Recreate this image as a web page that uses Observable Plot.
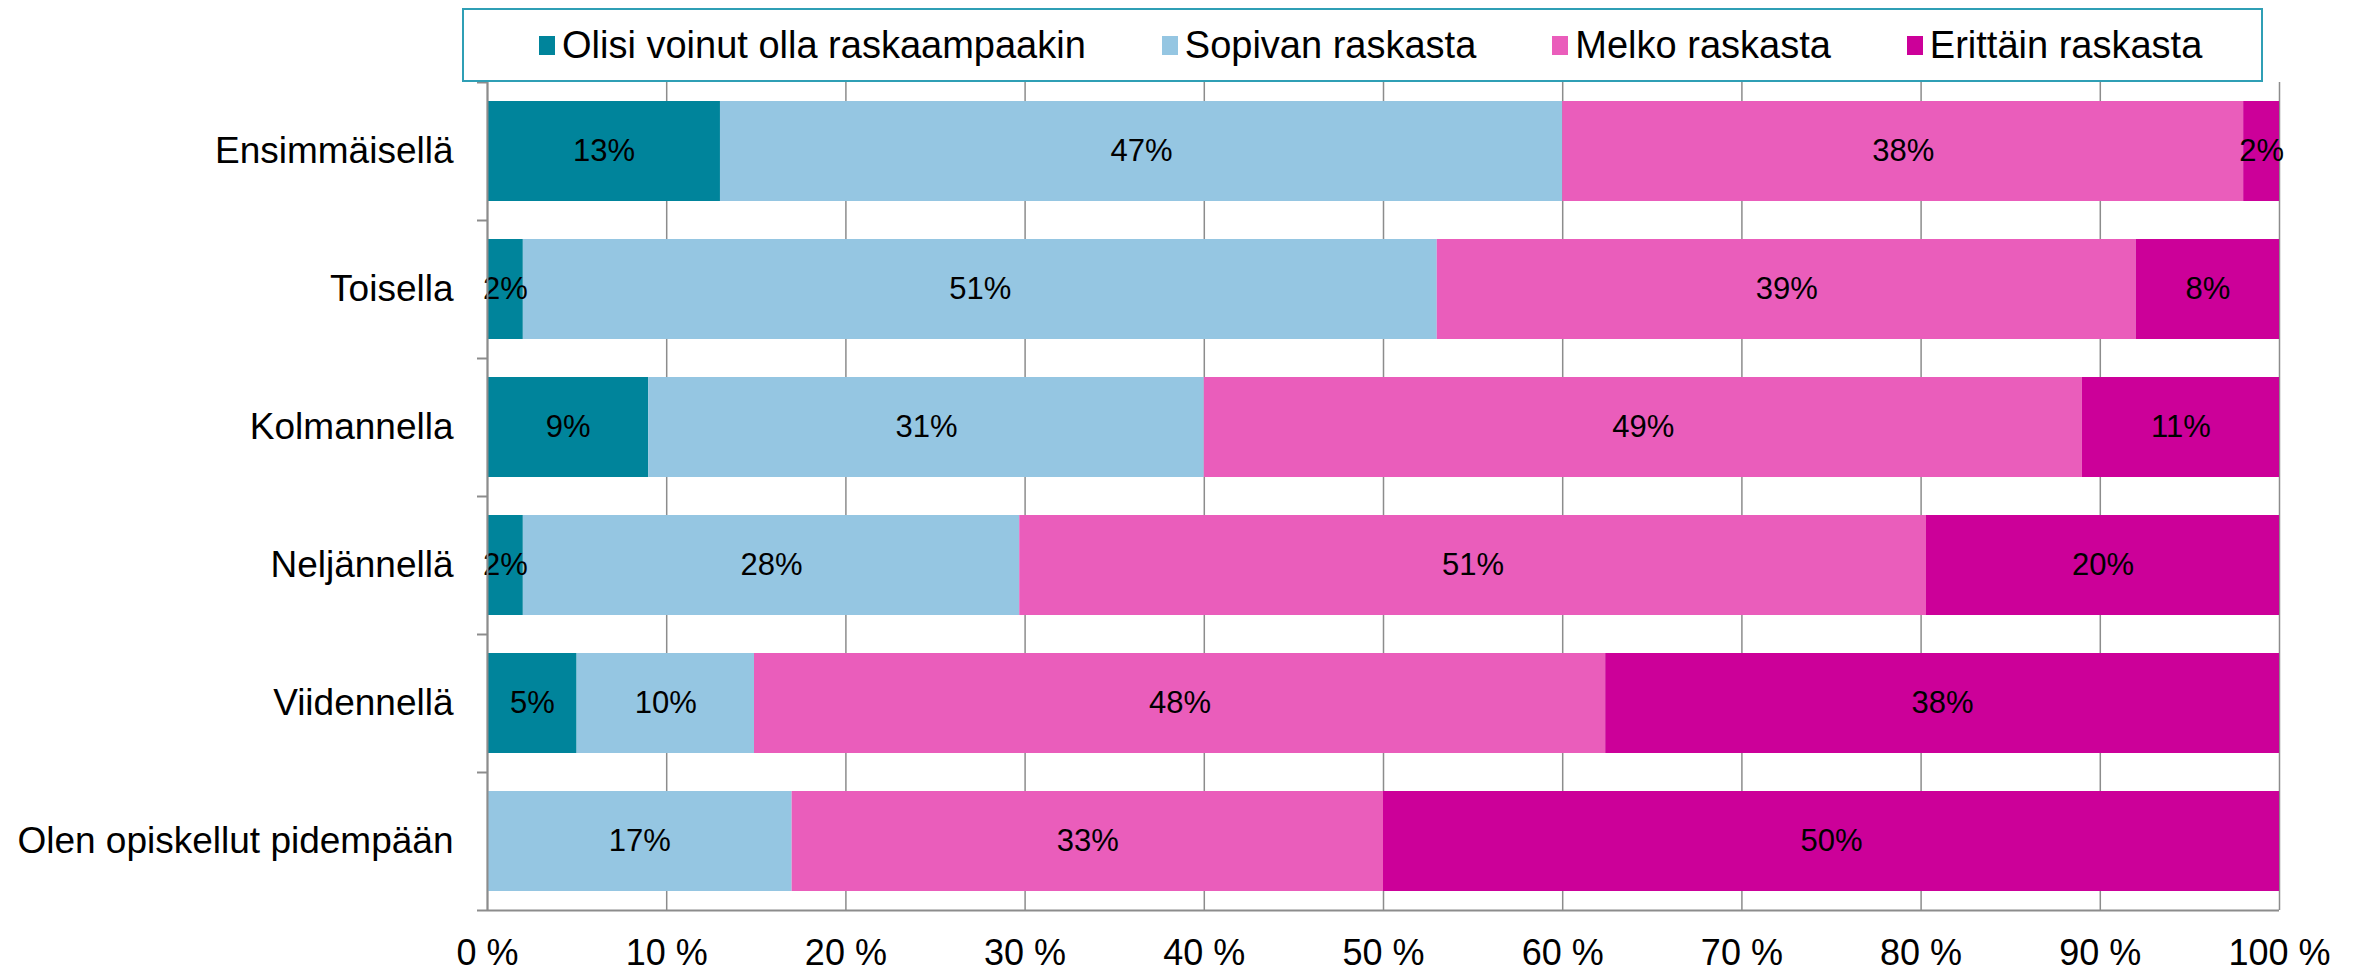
<!DOCTYPE html>
<html>
<head>
<meta charset="utf-8">
<script src="https://cdn.jsdelivr.net/npm/d3@7"></script>
<script src="https://cdn.jsdelivr.net/npm/@observablehq/plot@0.6"></script>
<style>
  html, body { margin: 0; padding: 0; background: white; }
  #wrap { position: relative; width: 2359px; height: 971px; font-family: "Liberation Sans", Arial, sans-serif; }
  #legend {
    position: absolute; left: 462px; top: 8px; width: 1801px; height: 74px;
    box-sizing: border-box; border: 2px solid #2f9fb5; background: white;
    display: flex; align-items: center; padding-left: 75px;
    font-size: 38px; color: black; z-index: 2;
  }
  .item { display: flex; align-items: center; margin-right: 76px; white-space: nowrap; }
  .sw { width: 16px; height: 19px; margin-right: 7px; }
</style>
</head>
<body>
<div id="wrap"><div id="legend"></div><div id="chart"></div></div>
<script>
const categories = ["Ensimmäisellä", "Toisella", "Kolmannella", "Neljännellä", "Viidennellä", "Olen opiskellut pidempään"];
const series = ["Olisi voinut olla raskaampaakin", "Sopivan raskasta", "Melko raskasta", "Erittäin raskasta"];
const colors = ["#00849b", "#95c6e2", "#ea5dbb", "#cc0099"];
const olisi = [13, 2, 9, 2.0, 5.0, 0];
const sopivan = [47, 51, 31, 27.7, 9.9, 17];
const melko = [38, 39, 49, 50.6, 47.5, 33];
const erittain = [2, 8, 11, 19.7, 37.6, 50];
const xTicks = [0, 10, 20, 30, 40, 50, 60, 70, 80, 90, 100];

const seriesValues = [olisi, sopivan, melko, erittain];
const rows = [];
series.forEach((s, i) => categories.forEach((c, j) => rows.push({category: c, series: s, value: seriesValues[i][j]})));

// legend
const legend = document.getElementById("legend");
series.forEach((s, i) => {
  const it = document.createElement("div");
  it.className = "item";
  const sw = document.createElement("div");
  sw.className = "sw";
  sw.style.background = colors[i];
  const t = document.createElement("span");
  t.textContent = s;
  it.appendChild(sw); it.appendChild(t);
  legend.appendChild(it);
});

const W = 2359, H = 971, mT = 82, mB = 61, mL = 487, mR = 80;
const bandStep = (H - mT - mB) / categories.length;
const grey = "#8c8c8c";

const chart = Plot.plot({
  width: W, height: H,
  marginTop: mT, marginBottom: mB, marginLeft: mL, marginRight: mR,
  style: {fontFamily: "'Liberation Sans', Arial, sans-serif", background: "white", color: "black", overflow: "visible"},
  x: {domain: [0, 100], label: null},
  y: {domain: categories, paddingInner: 0.2754, paddingOuter: 0.1377, label: null},
  color: {domain: series, range: colors},
  marks: [
    Plot.ruleX(xTicks, {stroke: grey, strokeWidth: 1.5}),
    Plot.barX(rows, Plot.stackX({x: "value", y: "category", fill: "series", order: series})),
    Plot.text(rows, Plot.stackX({
      x: "value", y: "category", z: "series", order: series,
      text: d => d.value > 0 ? Math.round(d.value) + "%" : "",
      fontSize: 31, fill: "black"
    })),
    Plot.ruleX([0], {stroke: grey, strokeWidth: 2}),
    Plot.ruleY([categories[categories.length - 1]], {dy: bandStep / 2, stroke: grey, strokeWidth: 2}),
    Plot.axisY({tickSize: 10, tickFormat: () => "", label: null, dy: bandStep / 2, stroke: grey, strokeWidth: 2}),
    Plot.axisY([categories[0]], {tickSize: 10, tickFormat: () => "", label: null, dy: -bandStep / 2, stroke: grey, strokeWidth: 2}),
    Plot.axisY({tickSize: 0, tickPadding: 34, fontSize: 37, label: null}),
    Plot.axisX({ticks: xTicks, tickFormat: d => d + " %", tickSize: 0, tickPadding: 29, fontSize: 36, label: null})
  ]
});
document.getElementById("chart").appendChild(chart);
</script>
</body>
</html>
